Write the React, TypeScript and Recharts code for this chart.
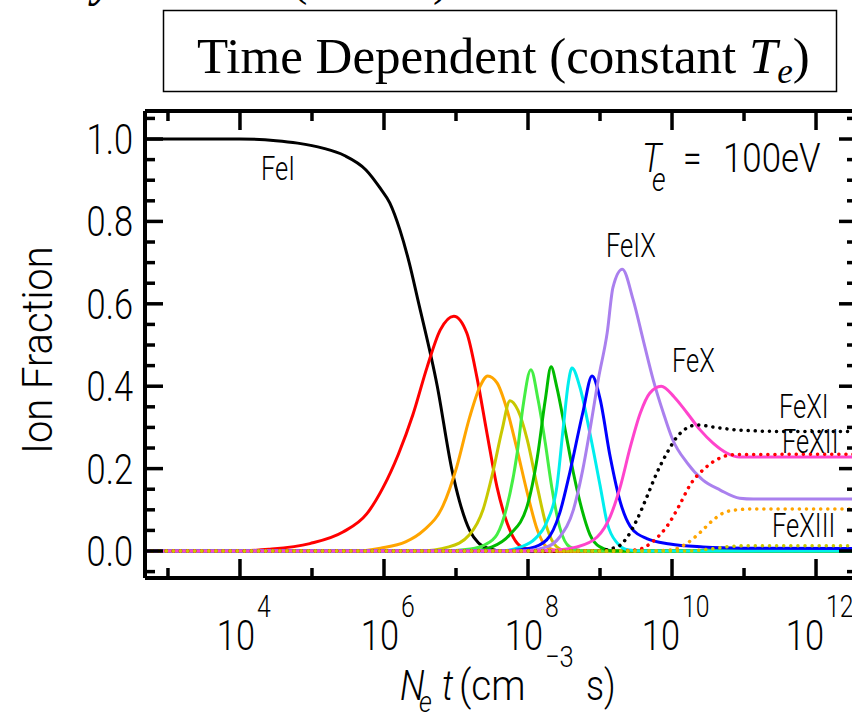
import { Line, LineChart, XAxis, YAxis } from "recharts";

// points are [log10(Ne t), ion fraction]
type Pt = [number, number];

const feI: Pt[] = [[2.68, 1], [4.0, 1], [4.5, 0.996], [4.8, 0.99], [5.15, 0.978], [5.45, 0.96], [5.75, 0.925], [5.95, 0.88], [6.08, 0.845], [6.22, 0.78], [6.35, 0.7], [6.47, 0.61], [6.74, 0.4], [6.94, 0.2], [7.05, 0.12], [7.19, 0.05], [7.31, 0.02], [7.47, 0.005], [7.65, 0], [12.57, 0]];
const feII: Pt[] = [[2.68, 0], [3.9, 0], [4.4, 0.004], [4.97, 0.018], [5.43, 0.046], [5.76, 0.09], [5.99, 0.155], [6.2, 0.235], [6.4, 0.33], [6.6, 0.447], [6.78, 0.536], [6.97, 0.57], [7.15, 0.529], [7.29, 0.422], [7.43, 0.286], [7.57, 0.155], [7.71, 0.068], [7.85, 0.019], [7.99, 0.005], [8.2, 0], [12.57, 0]];
const feIII: Pt[] = [[2.68, 0], [5.6, 0], [5.95, 0.007], [6.3, 0.022], [6.55, 0.05], [6.82, 0.11], [7.01, 0.204], [7.19, 0.325], [7.33, 0.398], [7.44, 0.425], [7.57, 0.408], [7.71, 0.342], [7.85, 0.245], [7.99, 0.141], [8.13, 0.051], [8.26, 0.01], [8.45, 0], [12.57, 0]];
const feIV: Pt[] = [[2.68, 0], [6.5, 0], [6.9, 0.01], [7.19, 0.04], [7.375, 0.1], [7.51, 0.19], [7.64, 0.294], [7.75, 0.365], [7.86, 0.342], [7.99, 0.27], [8.13, 0.155], [8.26, 0.058], [8.4, 0.01], [8.55, 0], [12.57, 0]];
const feV: Pt[] = [[2.68, 0], [6.8, 0], [7.2, 0.005], [7.4, 0.015], [7.57, 0.04], [7.71, 0.11], [7.85, 0.238], [7.93, 0.35], [8.04, 0.44], [8.14, 0.367], [8.24, 0.262], [8.33, 0.155], [8.44, 0.058], [8.58, 0.01], [8.8, 0], [12.57, 0]];
const feVI: Pt[] = [[2.68, 0], [7.2, 0], [7.5, 0.01], [7.75, 0.04], [7.99, 0.11], [8.13, 0.228], [8.24, 0.367], [8.32, 0.447], [8.4, 0.398], [8.51, 0.3], [8.63, 0.19], [8.75, 0.1], [8.86, 0.04], [9.0, 0.01], [9.2, 0], [12.57, 0]];
const feVII: Pt[] = [[2.68, 0], [7.6, 0], [7.9, 0.01], [8.1, 0.03], [8.26, 0.07], [8.4, 0.155], [8.49, 0.3], [8.56, 0.408], [8.61, 0.444], [8.72, 0.398], [8.86, 0.286], [9.0, 0.16], [9.1, 0.068], [9.24, 0.019], [9.38, 0.003], [9.6, 0], [12.57, 0]];
const feVIII: Pt[] = [[2.68, 0], [7.6, 0], [8.03, 0.007], [8.26, 0.027], [8.44, 0.092], [8.58, 0.19], [8.76, 0.335], [8.89, 0.425], [9.0, 0.37], [9.14, 0.23], [9.28, 0.12], [9.42, 0.06], [9.65, 0.03], [9.97, 0.017], [10.43, 0.01], [11.0, 0.007], [12.57, 0.006]];
const feIX: Pt[] = [[2.68, 0], [7.9, 0], [8.26, 0.01], [8.44, 0.034], [8.63, 0.1], [8.76, 0.197], [8.86, 0.294], [8.98, 0.42], [9.1, 0.53], [9.18, 0.64], [9.31, 0.684], [9.46, 0.61], [9.6, 0.512], [9.74, 0.415], [9.88, 0.335], [10.01, 0.27], [10.21, 0.214], [10.43, 0.172], [10.67, 0.148], [10.94, 0.128], [11.13, 0.126], [12.57, 0.126]];
const feX: Pt[] = [[2.68, 0], [8.0, 0], [8.35, 0.002], [8.68, 0.01], [8.96, 0.034], [9.14, 0.083], [9.28, 0.155], [9.42, 0.252], [9.56, 0.335], [9.69, 0.383], [9.85, 0.4], [10.03, 0.374], [10.21, 0.335], [10.39, 0.294], [10.57, 0.262], [10.76, 0.238], [10.94, 0.228], [12.57, 0.228]];
const feXI: Pt[] = [[2.68, 0], [8.9, 0], [9.24, 0.01], [9.38, 0.034], [9.51, 0.075], [9.65, 0.131], [9.79, 0.19], [9.93, 0.238], [10.07, 0.277], [10.21, 0.299], [10.35, 0.306], [10.57, 0.301], [10.9, 0.294], [11.6, 0.29], [12.57, 0.29]];
const feXII: Pt[] = [[2.68, 0], [9.2, 0], [9.51, 0.003], [9.76, 0.027], [9.95, 0.065], [10.1, 0.11], [10.25, 0.16], [10.45, 0.2], [10.67, 0.226], [10.85, 0.234], [12.57, 0.235]];
const feXIII: Pt[] = [[2.68, 0], [9.7, 0], [10.0, 0.003], [10.21, 0.019], [10.39, 0.045], [10.57, 0.075], [10.71, 0.092], [10.9, 0.1], [11.13, 0.102], [12.57, 0.102]];
const feXIV: Pt[] = [[2.68, 0], [10.2, 0], [10.5, 0.004], [10.8, 0.011], [11.1, 0.013], [12.57, 0.013]];
const higherIons: Pt[] = [[2.68, 0], [12.57, 0]];

const xTicks = [1e3, 1e4, 1e5, 1e6, 1e7, 1e8, 1e9, 1e10, 1e11, 1e12];
const xLabelled = [4, 6, 8, 10, 12];
const yTicks = [-0.05, 0, 0.05, 0.1, 0.15, 0.2, 0.25, 0.3, 0.35, 0.4, 0.45, 0.5, 0.55, 0.6, 0.65, 0.7, 0.75, 0.8, 0.85, 0.9, 0.95, 1.0, 1.05];
const yLabelled = [0, 0.2, 0.4, 0.6, 0.8, 1.0];

const DOT = "0.1 7";
const series = [
  { name: "FeXV", pts: higherIons, color: "#44ee44", dash: DOT },
  { name: "FeXVI", pts: higherIons, color: "#ff44cc", dash: DOT },
  { name: "FeXVII", pts: higherIons, color: "#000000", dash: "5 7" },
  { name: "FeI", pts: feI, color: "#000000" },
  { name: "FeII", pts: feII, color: "#ff0000" },
  { name: "FeIII", pts: feIII, color: "#ffa500" },
  { name: "FeIV", pts: feIV, color: "#c8c800" },
  { name: "FeV", pts: feV, color: "#44ee44" },
  { name: "FeVI", pts: feVI, color: "#00bb00" },
  { name: "FeVII", pts: feVII, color: "#00eeee" },
  { name: "FeVIII", pts: feVIII, color: "#0000ff" },
  { name: "FeIX", pts: feIX, color: "#aa80ee" },
  { name: "FeX", pts: feX, color: "#ff44cc" },
  { name: "FeXI", pts: feXI, color: "#000000", dash: DOT },
  { name: "FeXII", pts: feXII, color: "#ff0000", dash: DOT },
  { name: "FeXIII", pts: feXIII, color: "#ffa500", dash: DOT },
  { name: "FeXIV", pts: feXIV, color: "#c8c800", dash: DOT },
];

const rows = (pts: Pt[]) => pts.map(([e, f]) => ({ nt: 10 ** e, frac: f }));

const SANS = "Roboto, 'DejaVu Sans', sans-serif";
const SERIF = "'Liberation Serif', 'Times New Roman', serif";

function Narrow({ x, y, size, sx, children, italic, anchor }: any) {
  return (
    <text
      transform={`translate(${x},${y}) scale(${sx},1)`}
      textAnchor={anchor || "start"}
      fontFamily={SANS}
      fontWeight={300}
      fontSize={size}
      fontStyle={italic ? "italic" : "normal"}
      fill="#000"
    >
      {children}
    </text>
  );
}

const BottomTick = (p: any) => {
  const e = Math.round(Math.log10(p.payload.value));
  const major = xLabelled.includes(e);
  const sup = String(e);
  // "10" plus superscript, centred as a group on the tick
  const edge = p.x + (40 - sup.length * 14) / 2 + 2;
  return (
    <g>
      <line x1={p.x} x2={p.x} y1={p.y} y2={p.y - (major ? 19 : 10)} stroke="#000" strokeWidth={3.5} />
      {major && (
        <>
          <Narrow x={edge} y={p.y + 72} size={43} sx={0.8} anchor="end">10</Narrow>
          <Narrow x={edge + 2} y={p.y + 39} size={31} sx={0.8}>{sup}</Narrow>
        </>
      )}
    </g>
  );
};

const TopTick = (p: any) => {
  const e = Math.round(Math.log10(p.payload.value));
  const len = xLabelled.includes(e) ? 19 : 10;
  return <line x1={p.x} x2={p.x} y1={p.y} y2={p.y + len} stroke="#000" strokeWidth={3.5} />;
};

const LeftTick = (p: any) => {
  const v = p.payload.value;
  const major = yLabelled.includes(v);
  return (
    <g>
      <line x1={p.x} x2={p.x + (major ? 18 : 10)} y1={p.y} y2={p.y} stroke="#000" strokeWidth={3.5} />
      {major && (
        <Narrow x={p.x - 12} y={p.y + 15} size={43} sx={0.8} anchor="end">{v.toFixed(1)}</Narrow>
      )}
    </g>
  );
};

const RightTick = (p: any) => {
  const len = yLabelled.includes(p.payload.value) ? 18 : 10;
  return <line x1={p.x} x2={p.x - len} y1={p.y} y2={p.y} stroke="#000" strokeWidth={3.5} />;
};

const ionLabels = [
  { text: "FeI", x: 261, y: 180 },
  { text: "FeIX", x: 606, y: 257 },
  { text: "FeX", x: 672, y: 372 },
  { text: "FeXI", x: 779, y: 418 },
  { text: "FeXII", x: 782, y: 453 },
  { text: "FeXIII", x: 772, y: 537 },
];

export default function App() {
  const axisLine = { stroke: "#000", strokeWidth: 4 };
  const xDomain = [10 ** 2.681, 10 ** 12.569];
  const yDomain = [-0.0655, 1.068];
  // axes are 1px thick boxes so the frame sits at left 145, top 111, right 857, bottom 578
  return (
    <div style={{ position: "absolute", left: 0, top: 0, width: 852, height: 712, overflow: "hidden", background: "#fff" }}>
      <LineChart width={880} height={712} margin={{ top: 110, right: 22, bottom: 133, left: 144 }}>
        <XAxis
          dataKey="nt"
          type="number"
          scale="log"
          domain={xDomain}
          allowDataOverflow
          ticks={xTicks}
          interval={0}
          height={1}
          tickSize={0}
          tickMargin={0}
          tickLine={false}
          axisLine={axisLine}
          tick={<BottomTick />}
        />
        <XAxis
          xAxisId="top"
          orientation="top"
          dataKey="nt"
          type="number"
          scale="log"
          domain={xDomain}
          allowDataOverflow
          ticks={xTicks}
          interval={0}
          height={1}
          tickSize={0}
          tickMargin={0}
          tickLine={false}
          axisLine={axisLine}
          tick={<TopTick />}
        />
        <YAxis
          type="number"
          domain={yDomain}
          allowDataOverflow
          ticks={yTicks}
          interval={0}
          width={1}
          tickSize={0}
          tickMargin={0}
          tickLine={false}
          axisLine={axisLine}
          tick={<LeftTick />}
        />
        <YAxis
          yAxisId="right"
          orientation="right"
          type="number"
          domain={yDomain}
          allowDataOverflow
          ticks={yTicks}
          interval={0}
          width={1}
          tickSize={0}
          tickMargin={0}
          tickLine={false}
          axisLine={axisLine}
          tick={<RightTick />}
        />
        {series.map((s) => (
          <Line
            key={s.name}
            name={s.name}
            data={rows(s.pts)}
            dataKey="frac"
            type="monotone"
            stroke={s.color}
            strokeWidth={s.dash ? 3.5 : 3}
            strokeDasharray={s.dash}
            strokeLinecap={s.dash === DOT ? "round" : "butt"}
            dot={false}
            activeDot={false}
            isAnimationActive={false}
          />
        ))}
      </LineChart>

      <svg width={852} height={712} style={{ position: "absolute", left: 0, top: 0, pointerEvents: "none" }}>
        {/* tail of the line above, cut off by the frame */}
        <text x={93} y={-4} fontFamily={SERIF} fontWeight="bold" fontStyle="italic" fontSize={46}>y</text>
        <text x={292} y={-5} fontFamily={SERIF} fontSize={46}>(</text>
        <text x={433} y={-5} fontFamily={SERIF} fontSize={46}>)</text>

        <rect x={163.5} y={10.5} width={673} height={81} fill="#fff" stroke="#000" strokeWidth={1.5} />
        <text x={197} y={73} fontFamily={SERIF} fontSize={51} fill="#000">
          Time Dependent (constant <tspan fontStyle="italic">T</tspan>
          <tspan fontStyle="italic" fontSize={35} dy={10}>e</tspan>
          <tspan dy={-10}>)</tspan>
        </text>

        <Narrow x={642} y={172} size={41} sx={0.82} italic>T</Narrow>
        <Narrow x={652} y={191} size={33} sx={0.82} italic>e</Narrow>
        <Narrow x={683} y={172} size={41} sx={0.82}>=</Narrow>
        <Narrow x={723} y={172} size={41} sx={0.85}>100eV</Narrow>

        {ionLabels.map((l) => (
          <Narrow key={l.text} x={l.x} y={l.y} size={34} sx={0.75}>{l.text}</Narrow>
        ))}

        <text
          transform="translate(52,350) rotate(-90) scale(0.95,1)"
          textAnchor="middle"
          fontFamily={SANS}
          fontWeight={300}
          fontSize={42}
          fill="#000"
        >
          Ion Fraction
        </text>

        <Narrow x={400} y={700} size={42} sx={0.85} italic>N</Narrow>
        <Narrow x={419} y={712} size={30} sx={0.85} italic>e</Narrow>
        <Narrow x={442} y={700} size={42} sx={0.85} italic>t</Narrow>
        <Narrow x={459} y={700} size={42} sx={0.92}>(cm</Narrow>
        <Narrow x={545} y={667} size={30} sx={0.85}>−3</Narrow>
        <Narrow x={586} y={700} size={42} sx={0.85}>s)</Narrow>
      </svg>
    </div>
  );
}
